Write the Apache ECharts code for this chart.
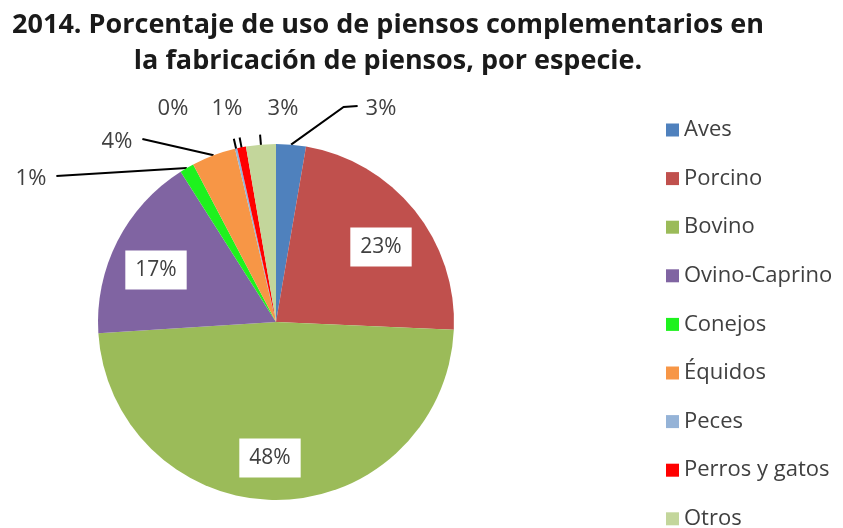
<!DOCTYPE html>
<html>
<head>
<meta charset="utf-8">
<script src="https://cdn.jsdelivr.net/npm/echarts@6/dist/echarts.min.js"></script>
<style>
html,body{margin:0;padding:0;background:#fff;}
#chart{width:843px;height:528px;}
</style>
</head>
<body>
<div id="chart"></div>
<script>
const titleText = '2014. Porcentaje de uso de piensos complementarios en\nla fabricación de piensos, por especie.';
const categories = ['Aves', 'Porcino', 'Bovino', 'Ovino-Caprino', 'Conejos', 'Équidos', 'Peces', 'Perros y gatos', 'Otros'];
const values = [2.7, 23.0, 48.3, 17.0, 1.3, 4.0, 0.2, 0.8, 2.7];
const colors = ['#4F81BD', '#C0504D', '#9BBB59', '#8064A2', '#1EF21E', '#F79646', '#95B3D7', '#FF0000', '#C3D69B'];

const CX = 276, CY = 322, R = 178;
// label anchor positions (label placement only) and leader style
const labelPos = {
  0: [381, 109],
  1: [381, 247],
  2: [270, 458],
  3: [156, 270],
  4: [31, 179],
  5: [117, 142],
  6: [173, 109],
  7: [227, 109],
  8: [283, 109]
};
const leaderKind = { 0: 'elbow', 4: 'toRight', 5: 'toRight', 6: 'tick', 7: 'tick', 8: 'tick' };
const insideIdx = [1, 2, 3];

const total = values.reduce((a, b) => a + b, 0);
function midAngle(i) {
  let cum = 0;
  for (let k = 0; k < i; k++) cum += values[k];
  return (cum + values[i] / 2) / total * Math.PI * 2; // clockwise from top
}
function edgePoint(i, extra) {
  const a = midAngle(i), r = R + (extra || 0);
  return [CX + r * Math.sin(a), CY - r * Math.cos(a)];
}

const chart = echarts.init(document.getElementById('chart'));
const data = categories.map((c, i) => {
  const inside = insideIdx.indexOf(i) >= 0;
  return {
    name: c,
    value: values[i],
    itemStyle: { color: colors[i] },
    label: inside ? {
      position: 'inside',
      backgroundColor: '#ffffff',
      padding: [9, 10],
      fontSize: 21,
      color: '#404040'
    } : { position: 'outside' },
    labelLine: { show: !inside }
  };
});

chart.setOption({
  animation: false,
  backgroundColor: '#ffffff',
  title: {
    text: titleText,
    left: 383,
    top: 2,
    textAlign: 'center',
    textStyle: {
      fontFamily: 'Open Sans',
      fontWeight: 'bold',
      fontSize: 27,
      lineHeight: 36,
      color: '#1a1a1a'
    }
  },
  legend: {
    orient: 'vertical',
    left: 661,
    top: 114,
    height: 440,
    icon: 'rect',
    itemWidth: 13,
    itemHeight: 13,
    itemGap: 26.6,
    data: categories,
    textStyle: {
      fontFamily: 'Open Sans',
      fontSize: 22,
      lineHeight: 22,
      color: '#404040',
      padding: [0, 0, 0, 0]
    }
  },
  series: [{
    type: 'pie',
    center: [CX, CY],
    radius: R,
    startAngle: 90,
    clockwise: true,
    avoidLabelOverlap: false,
    itemStyle: { borderWidth: 0 },
    label: {
      formatter: p => Math.round(p.percent) + '%',
      fontFamily: 'Open Sans',
      fontSize: 22,
      color: '#404040'
    },
    labelLine: {
      lineStyle: { color: '#000000', width: 2 },
      length: 10,
      length2: 10
    },
    labelLayout: function (params) {
      const i = params.dataIndex;
      const pos = labelPos[i];
      const out = { x: pos[0], y: pos[1], align: 'center', verticalAlign: 'middle' };
      const kind = leaderKind[i];
      const w = params.labelRect.width;
      if (kind === 'elbow') {
        const left = pos[0] - w / 2;
        out.labelLinePoints = [edgePoint(i), [left - 22, pos[1] - 2], [left - 8, pos[1] - 3]];
      } else if (kind === 'toRight') {
        const right = pos[0] + w / 2;
        out.labelLinePoints = [edgePoint(i), [right + 10, pos[1] - 3]];
      } else if (kind === 'tick') {
        out.labelLinePoints = [edgePoint(i, -2), edgePoint(i, 10)];
      }
      return out;
    },
    data: data
  }]
});
</script>
</body>
</html>
